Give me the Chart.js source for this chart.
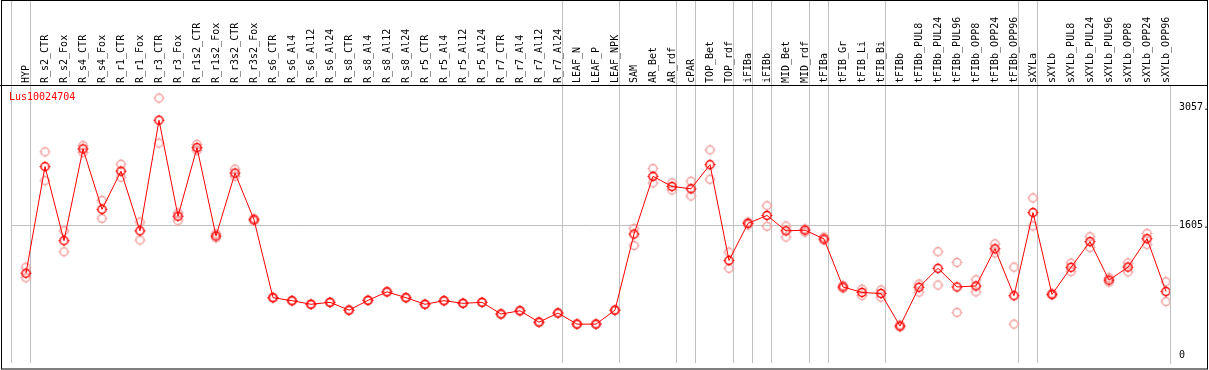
<!DOCTYPE html>
<html>
<head>
<meta charset="utf-8">
<script src="https://cdn.jsdelivr.net/npm/chart.js@4"></script>
<style>
  html, body { margin: 0; padding: 0; background: #fff; }
  #wrap { width: 1209px; height: 370px; }
</style>
</head>
<body>
<div id="wrap"><canvas id="geneChart"></canvas></div>
<script>
const geneName = 'Lus10024704';

const samples = [
    'HYP', 'R_s2_CTR', 'R_s2_Fox', 'R_s4_CTR', 'R_s4_Fox', 'R_r1_CTR', 'R_r1_Fox', 'R_r3_CTR', 'R_r3_Fox',
    'R_r1s2_CTR', 'R_r1s2_Fox', 'R_r3s2_CTR', 'R_r3s2_Fox', 'R_s6_CTR', 'R_s6_Al4', 'R_s6_Al12', 'R_s6_Al24',
    'R_s8_CTR', 'R_s8_Al4', 'R_s8_Al12', 'R_s8_Al24', 'R_r5_CTR', 'R_r5_Al4', 'R_r5_Al12', 'R_r5_Al24',
    'R_r7_CTR', 'R_r7_Al4', 'R_r7_Al12', 'R_r7_Al24', 'LEAF_N', 'LEAF_P', 'LEAF_NPK', 'SAM', 'AR_Bet', 'AR_rdf',
    'cPAR', 'TOP_Bet', 'TOP_rdf', 'iFIBa', 'iFIBb', 'MID_Bet', 'MID_rdf', 'tFIBa', 'tFIB_Gr', 'tFIB_Li', 'tFIB_Bi',
    'tFIBb', 'tFIBb_PUL8', 'tFIBb_PUL24', 'tFIBb_PUL96', 'tFIBb_OPP8', 'tFIBb_OPP24', 'tFIBb_OPP96',
    'sXYLa', 'sXYLb', 'sXYLb_PUL8', 'sXYLb_PUL24', 'sXYLb_PUL96', 'sXYLb_OPP8', 'sXYLb_OPP24', 'sXYLb_OPP96'
];

// mean expression per sample
const meanValues = [
    1016, 2327, 1416, 2544, 1801, 2271, 1537, 2897, 1717, 2560, 1473, 2247, 1673, 715, 678, 634, 658,
    562, 682, 787, 715, 634, 678, 646, 658, 514, 554, 414, 526, 390, 390, 562, 1497, 2207, 2082,
    2054, 2351, 1172, 1629, 1726, 1537, 1545, 1437, 847, 779, 767, 366, 843, 1076, 847, 859, 1316, 739,
    1762, 755, 1088, 1404, 931, 1091, 1440, 791
];

// replicate values (pale circles)
const repHigh = [
    1090, 2508, 1537, 2584, 1910, 2355, 1645, 3169, 1757, 2600, 1500, 2295, 1690, 715, 678, 634, 658,
    562, 682, 787, 715, 634, 678, 646, 658, 514, 554, 414, 526, 390, 390, 562, 1565, 2303, 2126,
    2147, 2532, 1276, 1645, 1846, 1597, 1560, 1460, 865, 820, 810, 380, 883, 1280, 1148, 935, 1377, 1091,
    1942, 770, 1140, 1465, 960, 1143, 1504, 911
];
const repLow = [
    960, 2154, 1280, 2500, 1690, 2195, 1424, 2616, 1661, 2527, 1450, 2207, 1660, 715, 678, 634, 658,
    562, 682, 787, 715, 634, 678, 646, 658, 514, 554, 414, 526, 390, 390, 562, 1356, 2126, 2038,
    1966, 2171, 1076, 1610, 1593, 1461, 1520, 1420, 830, 740, 720, 355, 783, 871, 534, 787, 1264, 390,
    1597, 745, 1035, 1332, 905, 1031, 1368, 667
];

const yTicks = [0, 1605, 3057];
const yTickLabels = ['0', '1605.', '3057.'];

// vertical separators sit just after these sample indexes
const groupEnds = [-1, 0, 28, 31, 34, 35, 37, 38, 39, 41, 42, 45, 52, 53];

const monoFont = '"DejaVu Sans Mono", "Liberation Mono", monospace';

function makeMarker(color) {
    const c = document.createElement('canvas');
    c.width = 13;
    c.height = 13;
    const g = c.getContext('2d');
    g.strokeStyle = color;
    g.lineWidth = 1.5;
    g.beginPath();
    g.arc(6.5, 6.5, 4, 0, Math.PI * 2);
    g.stroke();
    // one-pixel ticks at the four sides
    g.fillStyle = color;
    g.fillRect(6, 1, 1, 1);
    g.fillRect(6, 11, 1, 1);
    g.fillRect(1, 6, 1, 1);
    g.fillRect(11, 6, 1, 1);
    return c;
}

const redMarker = makeMarker('#ff0000');
const paleMarker = makeMarker('#f2a0a0');

const shift = 4 / 19;

const framePlugin = {
    id: 'frame',
    beforeDatasetsDraw(chart) {
        const ctx = chart.ctx;
        const x = chart.scales.x;
        const area = chart.chartArea;
        ctx.save();
        ctx.strokeStyle = '#c0c0c0';
        ctx.lineWidth = 1;
        groupEnds.forEach(i => {
            const px = Math.round(x.getPixelForValue(i + shift)) + 0.5;
            ctx.beginPath();
            ctx.moveTo(px, 0);
            ctx.lineTo(px, area.bottom);
            ctx.stroke();
        });
        ctx.restore();
    },
    afterDraw(chart) {
        const ctx = chart.ctx;
        const area = chart.chartArea;
        ctx.save();
        ctx.strokeStyle = '#000';
        ctx.lineWidth = 1;
        ctx.beginPath();
        ctx.moveTo(0, area.top + 0.5);
        ctx.lineTo(1208, area.top + 0.5);
        ctx.stroke();
        ctx.strokeRect(1.5, 0.5, 1206, 368.5);
        ctx.fillStyle = '#ff0000';
        ctx.font = '10px ' + monoFont;
        ctx.textBaseline = 'middle';
        ctx.fillText(geneName, 9, 97);
        ctx.restore();
    }
};

const ctx = document.getElementById('geneChart').getContext('2d');

const geneChart = new Chart(ctx, {
    type: 'line',
    data: {
        datasets: [
            {
                data: meanValues.map((v, i) => ({ x: i, y: v })),
                borderColor: '#ff0000',
                borderWidth: 1,
                pointStyle: () => redMarker,
                pointRadius: 4
            },
            {
                data: repHigh.map((v, i) => ({ x: i, y: v })),
                showLine: false,
                pointStyle: () => paleMarker,
                pointRadius: 4
            },
            {
                data: repLow.map((v, i) => ({ x: i, y: v })),
                showLine: false,
                pointStyle: () => paleMarker,
                pointRadius: 4
            }
        ]
    },
    options: {
        responsive: true,
        maintainAspectRatio: false,
        animation: false,
        layout: { padding: { left: 11, right: 2, top: 0, bottom: 1 } },
        plugins: {
            legend: { display: false },
            tooltip: { enabled: false }
        },
        scales: {
            x: {
                type: 'linear',
                position: 'top',
                min: -1 + shift,
                max: 60 + shift,
                grid: { display: false, drawTicks: false },
                border: { display: false },
                afterBuildTicks: scale => {
                    scale.ticks = samples.map((s, i) => ({ value: i }));
                },
                afterFit: scale => { scale.height = 85; },
                ticks: {
                    autoSkip: false,
                    minRotation: 90,
                    maxRotation: 90,
                    padding: 2,
                    labelOffset: 12,
                    color: '#000',
                    font: { family: monoFont, size: 10 },
                    callback: v => samples[v]
                }
            },
            y: {
                position: 'right',
                min: -88,
                max: 3330,
                afterBuildTicks: scale => {
                    scale.ticks = yTicks.map(v => ({ value: v }));
                },
                afterFit: scale => { scale.width = 37; },
                grid: {
                    color: c => (c.tick && c.tick.value === 1605) ? '#c0c0c0' : 'rgba(0,0,0,0)',
                    tickLength: 8
                },
                border: { display: true, color: '#c0c0c0' },
                ticks: {
                    padding: 1,
                    color: '#000',
                    font: { family: monoFont, size: 10 },
                    callback: v => yTickLabels[yTicks.indexOf(v)]
                }
            }
        }
    },
    plugins: [framePlugin]
});
</script>
</body>
</html>
